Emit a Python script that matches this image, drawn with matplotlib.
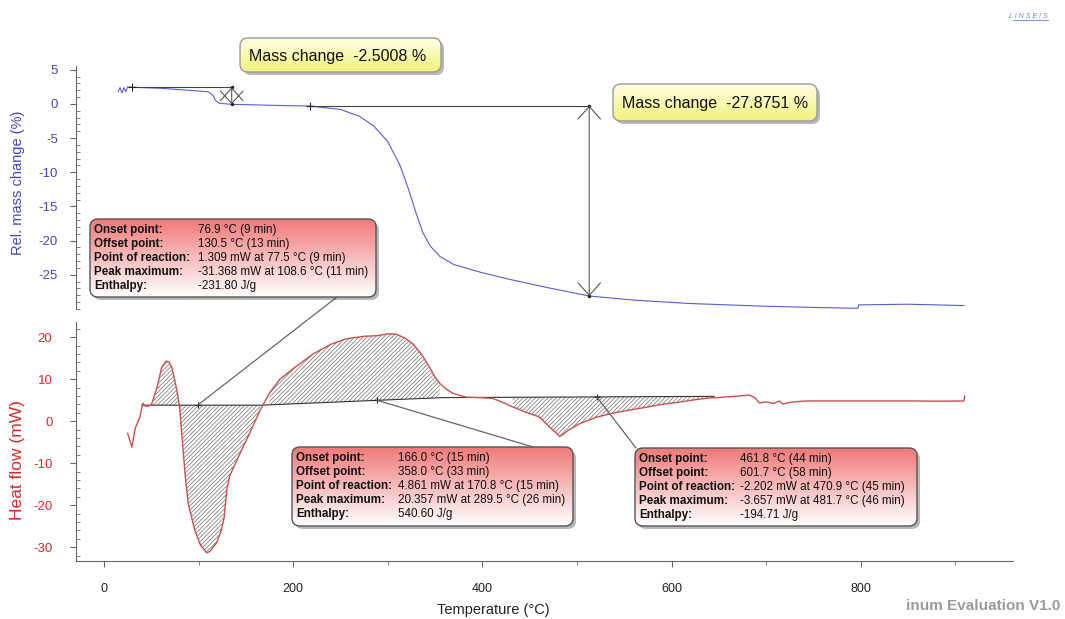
import numpy as np
import matplotlib
matplotlib.use('Agg')
import matplotlib.pyplot as plt
from matplotlib.patches import FancyBboxPatch, ConnectionPatch
from matplotlib.colors import to_rgb
from matplotlib.ticker import MultipleLocator

plt.rcParams['font.family'] = ['Liberation Sans', 'DejaVu Sans']
plt.rcParams['hatch.linewidth'] = 0.5
plt.rcParams['axes.unicode_minus'] = False

# TG curve: temperature (C) vs relative mass change (%)
temp_tg = [15, 17, 19, 21, 23, 25, 30, 60, 90, 110, 115, 118, 122, 135, 180, 218,
           250, 270, 285, 300, 313, 322, 330, 337, 345, 355, 370, 400, 430, 470,
           513, 560, 620, 700, 760, 797, 798, 850, 880, 909]
mass_tg = [1.8, 2.4, 1.6, 2.4, 1.8, 2.5, 2.45, 2.3, 2.0, 1.8, 1.3, 0.5, 0.1, -0.05,
           -0.2, -0.3, -0.8, -1.8, -3.2, -5.5, -9.0, -12.5, -16.0, -18.8, -20.8,
           -22.3, -23.5, -24.7, -25.7, -26.9, -28.1, -28.7, -29.2, -29.6, -29.8,
           -29.9, -29.4, -29.3, -29.4, -29.5]

# DSC curve: temperature (C) vs heat flow (mW)
temp_dsc = [25, 29.5, 33, 38, 41, 44, 47, 50, 56, 61, 66, 69, 72, 77, 80, 83, 86, 89,
            96, 102, 108.6, 112, 119, 124, 127, 130, 133, 137, 144, 154, 165, 175,
            186, 200, 221, 240, 256, 275, 289.5, 300, 309, 318, 327, 336, 344, 350,
            355, 362, 369, 383, 397, 411, 420, 432, 445, 460, 471, 478, 481.7, 485,
            492, 503, 520, 538, 555, 573, 590, 608, 625, 640, 655, 672, 682, 688,
            693, 700, 708, 714, 718, 721, 730, 742, 800, 860, 880, 909, 910]
hf_dsc = [-2.9, -6.2, -1.7, 1.0, 4.3, 3.5, 3.6, 3.8, 8.0, 12.8, 14.3, 14.0, 12.6,
          7.4, 3.4, -5.3, -13.3, -19.6, -26.0, -29.5, -31.368, -31.0, -29.0, -26.0,
          -23.0, -16.0, -13.0, -11.0, -7.6, -2.9, 2.6, 6.7, 10.0, 12.5, 16.0, 18.3,
          19.6, 20.2, 20.357, 20.8, 20.7, 19.8, 18.3, 15.8, 12.9, 10.5, 9.0, 7.6,
          6.6, 5.7, 5.6, 5.4, 4.6, 3.4, 2.2, 1.0, -1.4, -2.8, -3.657, -3.2, -2.0,
          -0.6, 0.9, 1.9, 2.6, 3.3, 4.0, 4.5, 5.1, 5.5, 5.7, 6.0, 6.2, 5.6, 4.3,
          4.6, 4.2, 4.8, 4.0, 4.3, 4.6, 4.8, 4.8, 4.8, 4.75, 4.8, 6.0]

# integration baseline and peak limits
base_t = [40, 166, 358, 645]
base_hf = [3.8, 3.8, 5.6, 5.9]
peak_ranges = [(50, 165), (166, 358), (430, 645)]
peak_marks = [99, 289, 521]

# mass steps: start T, arrow T, start level, change (%)
step_start = [30, 218]
step_at = [135, 513]
step_level = [2.45, -0.25]
step_change = [-2.5008, -27.8751]

row_names = ['Onset point:', 'Offset point:', 'Point of reaction:', 'Peak maximum:', 'Enthalpy:']
peak_texts = [
    ['76.9 \u00b0C (9 min)', '130.5 \u00b0C (13 min)', '1.309 mW at 77.5 \u00b0C (9 min)',
     '-31.368 mW at 108.6 \u00b0C (11 min)', '-231.80 J/g'],
    ['166.0 \u00b0C (15 min)', '358.0 \u00b0C (33 min)', '4.861 mW at 170.8 \u00b0C (15 min)',
     '20.357 mW at 289.5 \u00b0C (26 min)', '540.60 J/g'],
    ['461.8 \u00b0C (44 min)', '601.7 \u00b0C (58 min)', '-2.202 mW at 470.9 \u00b0C (45 min)',
     '-3.657 mW at 481.7 \u00b0C (46 min)', '-194.71 J/g'],
]

W, H = 1065, 619
fig = plt.figure(figsize=(W / 100, H / 100), dpi=100)

def frac(x0, y0, x1, y1):
    return [x0 / W, 1 - y1 / H, (x1 - x0) / W, (y1 - y0) / H]

blue = '#4646b4'
red = '#d42a2a'
axis_col = '#666666'

ax_tg = fig.add_axes(frac(76, 66, 1013, 309))
ax_hf = fig.add_axes(frac(76, 322, 1013, 561), sharex=ax_tg)

for ax in (ax_tg, ax_hf):
    for s in ('top', 'right'):
        ax.spines[s].set_visible(False)
    ax.spines['left'].set_color(axis_col)
    ax.spines['bottom'].set_color(axis_col)
    ax.tick_params(axis='y', which='major', direction='out', length=4, width=0.8,
                   color=axis_col, pad=9, labelsize=9.5)
    ax.tick_params(axis='y', which='minor', direction='in', length=3, width=0.6,
                   color=axis_col)
ax_tg.spines['bottom'].set_visible(False)
ax_tg.tick_params(axis='x', which='both', bottom=False, labelbottom=False)
ax_tg.tick_params(axis='y', labelcolor=blue)
ax_hf.tick_params(axis='y', labelcolor=red, pad=13)
ax_hf.tick_params(axis='x', which='major', direction='out', length=4, width=0.8,
                  color=axis_col, pad=12, labelsize=9, labelcolor='#222222')
ax_hf.tick_params(axis='x', which='minor', direction='out', length=3, width=0.6,
                  color=axis_col)

ax_hf.set_xlim(-29.6, 961)
ax_hf.xaxis.set_major_locator(MultipleLocator(200))
ax_hf.xaxis.set_minor_locator(MultipleLocator(100))
ax_tg.set_ylim(-30.0, 5.56)
ax_tg.set_yticks([5, 0, -5, -10, -15, -20, -25])
ax_tg.yaxis.set_minor_locator(MultipleLocator(1))
ax_hf.set_ylim(-33.3, 23.6)
ax_hf.set_yticks([20, 10, 0, -10, -20, -30])
ax_hf.yaxis.set_minor_locator(MultipleLocator(2))

# mass curve
ax_tg.plot(temp_tg, mass_tg, color='#5a5ad2', lw=0.8, clip_on=False)
for t0, t1, lvl, dm in zip(step_start, step_at, step_level, step_change):
    ax_tg.plot([t0, t1], [lvl, lvl], color='#444444', lw=0.8)
    ax_tg.plot([t0], [lvl], marker='+', color='#222222', ms=6, mew=0.8)
    ax_tg.annotate('', xy=(t1, lvl + dm), xytext=(t1, lvl),
                   arrowprops=dict(arrowstyle='<->,head_length=0.5,head_width=0.45',
                                   color='#555555', lw=0.8,
                                   mutation_scale=18, shrinkA=0, shrinkB=0))
    ax_tg.plot([t1, t1], [lvl, lvl + dm], ls='none', marker='.', color='#222222', ms=3)

# heat flow curve with hatched peak areas
t_arr = np.array(temp_dsc)
hf_arr = np.array(hf_dsc)
base_arr = np.interp(t_arr, base_t, base_hf)
for lo, hi in peak_ranges:
    m = (t_arr >= lo) & (t_arr <= hi)
    ax_hf.fill_between(t_arr[m], hf_arr[m], base_arr[m], facecolor='none',
                       edgecolor='#6a6a6a', hatch='////////', linewidth=0)
ax_hf.plot(base_t, base_hf, color='#333333', lw=0.8)
ax_hf.plot(temp_dsc, hf_dsc, color='#c85050', lw=1.0)
mark_y = np.interp(peak_marks, base_t, base_hf)
ax_hf.plot(peak_marks, mark_y, ls='none', marker='+', color='#222222', ms=5, mew=0.8)

fig.text(18 / W, 1 - 183 / H, 'Rel. mass change (%)', rotation=90, color=blue,
         fontsize=10.5, ha='center', va='center')
fig.text(18 / W, 1 - 460 / H, 'Heat flow (mW)', rotation=90, color=red,
         fontsize=12.5, ha='center', va='center')
fig.text(493 / W, 1 - 610 / H, 'Temperature (\u00b0C)', color='#222222',
         fontsize=10.5, ha='center', va='center')
fig.text(1060 / W, 1 - 606 / H, 'inum Evaluation V1.0', color='#9a9a9a',
         fontsize=11, fontweight='bold', ha='right', va='center')
fig.text(1048 / W, 1 - 16 / H, 'L I N S E I S', color='#6a86c8', fontsize=5,
         style='italic', ha='right', va='center')
fig.add_artist(plt.Line2D([1013 / W, 1048 / W], [1 - 20 / H, 1 - 20 / H],
                          color='#6a86c8', lw=0.6))

# overlay in pixel units for the callout boxes
ov = fig.add_axes([0, 0, 1, 1], zorder=5)
ov.patch.set_visible(False)
ov.axis('off')

def note_box(x0, y0, x1, y1, top, bottom, edge):
    shadow = FancyBboxPatch((x0 + 3, y0 + 3), x1 - x0, y1 - y0,
                            boxstyle='round,pad=0,rounding_size=8',
                            fc=(0, 0, 0, 0.28), ec='none')
    ov.add_patch(shadow)
    box = FancyBboxPatch((x0, y0), x1 - x0, y1 - y0,
                         boxstyle='round,pad=0,rounding_size=8',
                         fc='none', ec=edge, lw=1.0, zorder=3)
    ov.add_patch(box)
    g = np.linspace(0, 1, 64)[:, None, None]
    img = (1 - g) * np.array(to_rgb(top)) + g * np.array(to_rgb(bottom))
    img = np.repeat(img, 2, axis=1)
    im = ov.imshow(img, extent=(x0, x1, y1, y0), aspect='auto', zorder=2,
                   interpolation='bilinear')
    im.set_clip_path(box)

# mass change labels
mass_boxes = [(240, 38, 441, 72), (613, 84, 817, 121)]
for (x0, y0, x1, y1), dm in zip(mass_boxes, step_change):
    note_box(x0, y0, x1, y1, '#ffffe6', '#f2f27a', '#9a9a9a')
    ov.text(x0 + 9, (y0 + y1) / 2 + 1, f'Mass change  {dm:.4f} %', fontsize=11.5,
            color='#111111', va='center', zorder=4)

# peak evaluation labels
peak_boxes = [(90, 219, 376, 297), (292, 447, 573, 526), (635, 448, 917, 526)]
box_anchor = [(337, 297), (533, 447), (636, 448)]
value_dx = [108, 106, 105]
for i, (x0, y0, x1, y1) in enumerate(peak_boxes):
    note_box(x0, y0, x1, y1, '#f07a7a', '#ffffff', '#555555')
    for j, (name, val) in enumerate(zip(row_names, peak_texts[i])):
        yy = y0 + 11 + 14 * j
        ov.text(x0 + 4, yy, name, fontsize=8.4, fontweight='bold', color='#111111',
                va='center', zorder=4)
        ov.text(x0 + value_dx[i], yy, val, fontsize=8.4, color='#111111',
                va='center', zorder=4)
    con = ConnectionPatch(xyA=(peak_marks[i], mark_y[i]), coordsA=ax_hf.transData,
                          xyB=box_anchor[i], coordsB=ov.transData,
                          color='#666666', lw=0.9, zorder=1)
    fig.add_artist(con)

ov.set_xlim(0, W)
ov.set_ylim(H, 0)

fig.savefig('out.png', dpi=100)
